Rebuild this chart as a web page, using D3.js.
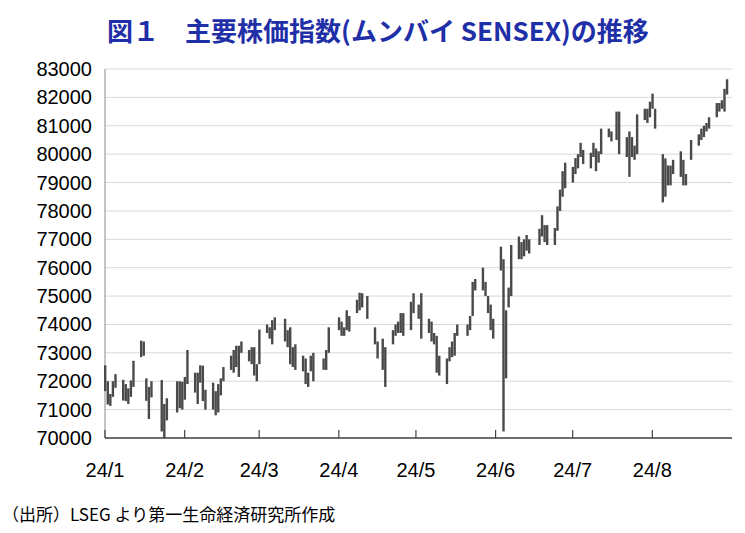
<!DOCTYPE html>
<html><head><meta charset="utf-8">
<script src="https://cdn.jsdelivr.net/npm/d3@7"></script>
<style>body{margin:0;background:#fff}</style></head>
<body><svg id="c" width="745" height="533"></svg>
<script>
const dates=["01-01","01-02","01-03","01-04","01-05","01-08","01-09","01-10","01-11","01-12","01-15","01-16","01-17","01-18","01-19","01-23","01-24","01-25","01-29","01-30","01-31",
"02-01","02-02","02-05","02-06","02-07","02-08","02-09","02-12","02-13","02-14","02-15","02-16","02-19","02-20","02-21","02-22","02-23","02-26","02-27","02-28","02-29",
"03-01","03-04","03-05","03-06","03-07","03-11","03-12","03-13","03-14","03-15","03-18","03-19","03-20","03-21","03-22","03-26","03-27","03-28",
"04-01","04-02","04-03","04-04","04-05","04-08","04-09","04-10","04-12","04-15","04-16","04-18","04-19","04-22","04-23","04-24","04-25","04-26","04-29","04-30",
"05-02","05-03","05-06","05-07","05-08","05-09","05-10","05-13","05-14","05-15","05-16","05-17","05-21","05-22","05-23","05-24","05-27","05-28","05-29","05-30","05-31",
"06-03","06-04","06-05","06-06","06-07","06-10","06-11","06-12","06-13","06-14","06-18","06-19","06-20","06-21","06-24","06-25","06-26","06-27","06-28",
"07-01","07-02","07-03","07-04","07-05","07-08","07-09","07-10","07-11","07-12","07-15","07-16","07-18","07-19","07-22","07-23","07-24","07-25","07-26","07-29","07-30","07-31",
"08-01","08-02","08-05","08-06","08-07","08-08","08-09","08-12","08-13","08-14","08-16","08-19","08-20","08-21","08-22","08-23","08-26","08-27","08-28","08-29","08-30"];
const highs=[72560,72000,71550,72000,72250,72050,71900,71750,72030,72720,73430,73400,72100,71800,72000,72040,71200,71400,72000,72000,71980,
72150,73100,72300,72300,72560,72550,71700,71950,71650,71900,72100,72500,72900,73100,73250,73250,73400,73100,73200,73200,72600,
73820,74000,73900,74150,74250,74200,73800,73900,73200,73300,72900,72800,72300,72900,73000,72800,73100,73900,
74250,74100,73900,74500,74300,74870,75120,75100,75000,73900,73400,73500,73200,73800,74000,74100,74400,74400,74800,75100,
74700,75100,74200,74100,73700,73600,72900,72800,73200,73400,73700,74000,74000,74300,75500,75600,76000,75500,75000,74700,74200,
76740,76300,74500,75300,76800,77100,76900,77000,77150,77000,77370,77850,77500,77500,77400,78160,78750,79400,79700,
79550,79860,80000,80400,80150,80050,80400,80200,80100,80900,80900,80800,81500,81500,80600,80800,80600,80300,81400,81600,81600,81850,
82130,81600,80000,79850,79600,79600,79800,80100,79800,79300,80500,80700,80900,81000,81100,81300,81800,81800,81900,82300,82640];
const lows=[71650,71180,71130,71450,71770,71320,71300,71200,71450,71800,72850,72900,71310,70670,71430,70230,70000,70620,70900,71050,71000,
71350,71900,71600,71200,71950,71300,71000,71000,70800,70900,71500,72000,72400,72300,72500,72150,73000,72700,72600,72200,72000,
72600,73700,73500,73300,73800,73400,73200,72600,72500,72400,72350,71900,71800,72350,72000,72400,72400,73000,
73800,73600,73600,73800,73750,74400,74500,74600,74200,73300,72800,72400,71800,73300,73600,73700,73700,73600,73800,74400,
74200,73500,73700,73400,73300,72300,72200,71900,72700,72850,72900,73600,73600,73800,74300,75200,75200,75000,74400,73800,73500,
75900,70230,72100,74600,75000,76300,76300,76400,76600,76500,76800,77100,76900,76800,76800,77300,78000,78500,78800,
79000,79300,79500,79900,79650,79500,79900,79400,79700,80000,80600,80450,80500,80000,79900,79200,79900,79800,80000,81200,81100,81300,
81600,80900,78300,78500,78900,78900,79300,79200,78900,78900,79800,80300,80500,80600,80800,80900,81300,81500,81600,81500,82100];
const yTicks=[70000,71000,72000,73000,74000,75000,76000,77000,78000,79000,80000,81000,82000,83000];
const monthLabels=["24/1","24/2","24/3","24/4","24/5","24/6","24/7","24/8"];

const svg=d3.select("#c");
const L=105,R=732,T=69,B=438;
const x=d3.scaleTime().domain([new Date(2024,0,1),new Date(2024,8,1)]).range([L,R]);
const y=d3.scaleLinear().domain([70000,83000]).range([B,T]);
const font="'Noto Sans CJK JP','Noto Sans',sans-serif";
svg.append("text").attr("x",378).attr("y",41).attr("text-anchor","middle").attr("font-family",font)
 .attr("font-weight","bold").attr("font-size",26).attr("fill","#1f2fa8").text("図１　主要株価指数(ムンバイ SENSEX)の推移");
svg.append("g").selectAll("line").data(yTicks).join("line").attr("x1",L).attr("x2",R)
 .attr("y1",d=>y(d)).attr("y2",d=>y(d)).attr("stroke","#d9d9d9").attr("stroke-width",1);
svg.append("g").selectAll("text").data(yTicks).join("text").attr("x",92).attr("y",d=>y(d)+7)
 .attr("text-anchor","end").attr("font-family","Arial,'Liberation Sans',sans-serif").attr("font-size",20).attr("fill","#000").text(d=>d);
const months=monthLabels.map((m,i)=>new Date(2024,i,1));
svg.append("line").attr("x1",L).attr("x2",L).attr("y1",T).attr("y2",B).attr("stroke","#888");
svg.append("line").attr("x1",L).attr("x2",R).attr("y1",B).attr("y2",B).attr("stroke","#444").attr("stroke-width",1.5);
svg.append("g").selectAll("line").data(months).join("line").attr("x1",d=>x(d)).attr("x2",d=>x(d))
 .attr("y1",B).attr("y2",B-8).attr("stroke","#444").attr("stroke-width",1.2);
svg.append("g").selectAll("text").data(monthLabels).join("text").attr("x",(d,i)=>x(months[i])).attr("y",477)
 .attr("text-anchor","middle").attr("font-family","Arial,'Liberation Sans',sans-serif").attr("font-size",20).text(d=>d);
const data=dates.map((d,i)=>({t:new Date("2024-"+d+"T00:00:00"),h:highs[i],l:lows[i]}));
svg.append("g").selectAll("rect").data(data).join("rect")
 .attr("x",d=>x(d.t)-1).attr("width",2.4).attr("y",d=>y(d.h)).attr("height",d=>Math.max(1,y(d.l)-y(d.h)))
 .attr("fill","#4a4a4a");
svg.append("text").attr("x",2).attr("y",521).attr("font-family",font).attr("font-size",17).text("（出所）LSEG より第一生命経済研究所作成");
</script></body></html>
